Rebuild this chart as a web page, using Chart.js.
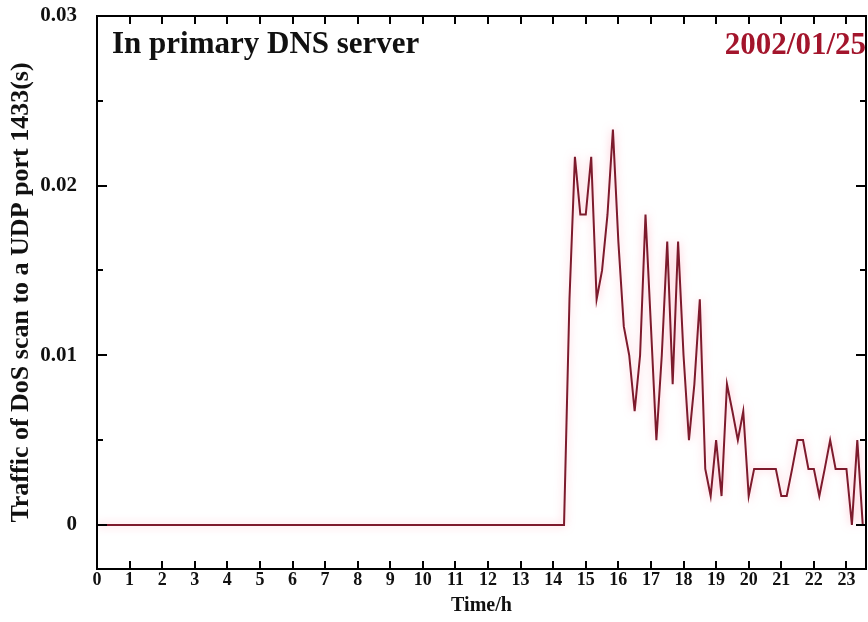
<!DOCTYPE html>
<html>
<head>
<meta charset="utf-8">
<script src="https://cdn.jsdelivr.net/npm/chart.js@4.4.1/dist/chart.umd.min.js"></script>
<style>
  html, body { margin: 0; padding: 0; background: #ffffff; }
  #wrap { position: relative; width: 868px; height: 622px; overflow: hidden; }
  canvas { display: block; }
  .note { position: absolute; font-family: "Liberation Serif", "DejaVu Serif", serif; font-weight: bold; white-space: nowrap; line-height: 1; }
  #title { left: 112px; top: 27px; font-size: 31px; color: #111111; }
  #date { right: 2px; top: 28px; font-size: 31px; color: #a3152c; }
</style>
</head>
<body>
<div id="wrap">
  <canvas id="c" width="868" height="622"></canvas>
  <div class="note" id="title">In primary DNS server</div>
  <div class="note" id="date">2002/01/25</div>
</div>
<script>
// Sample times (hours of the day, 10-minute bins) and scan traffic per bin
const hours = [
  0, 14.333,
  14.5, 14.667, 14.833, 15.0, 15.167, 15.333, 15.5, 15.667, 15.833, 16.0,
  16.167, 16.333, 16.5, 16.667, 16.833, 17.0, 17.167, 17.333, 17.5, 17.667,
  17.833, 18.0, 18.167, 18.333, 18.5, 18.667, 18.833, 19.0, 19.167, 19.333,
  19.5, 19.667, 19.833, 20.0, 20.167, 20.333, 20.5, 20.667, 20.833, 21.0,
  21.167, 21.333, 21.5, 21.667, 21.833, 22.0, 22.167, 22.333, 22.5, 22.667,
  22.833, 23.0, 23.167, 23.333, 23.5
];
const traffic = [
  0, 0,
  0.0133, 0.0217, 0.0183, 0.0183, 0.0217, 0.0133, 0.0150, 0.0183, 0.0233, 0.0167,
  0.0117, 0.0100, 0.0067, 0.0100, 0.0183, 0.0117, 0.0050, 0.0100, 0.0167, 0.0083,
  0.0167, 0.0100, 0.0050, 0.0083, 0.0133, 0.0033, 0.0017, 0.0050, 0.0017, 0.0083,
  0.0067, 0.0050, 0.0067, 0.0017, 0.0033, 0.0033, 0.0033, 0.0033, 0.0033, 0.0017,
  0.0017, 0.0033, 0.0050, 0.0050, 0.0033, 0.0033, 0.0017, 0.0033, 0.0050, 0.0033,
  0.0033, 0.0033, 0.0000, 0.0050, 0.0000
];

// Axis ticks
const hourTicks = [0,1,2,3,4,5,6,7,8,9,10,11,12,13,14,15,16,17,18,19,20,21,22,23];
const yMajorTicks = [0, 0.01, 0.02, 0.03];
const yMinorTicks = [0.005, 0.015, 0.025];

const serif = '"Liberation Serif", "DejaVu Serif", serif';

// Draws the boxed frame with inward ticks on all four sides
const frameTicks = {
  id: 'frameTicks',
  afterDraw(chart) {
    const { ctx, chartArea: a, scales: { x, y } } = chart;
    ctx.save();
    ctx.strokeStyle = '#000000';
    ctx.lineWidth = 2;
    ctx.beginPath();
    hourTicks.forEach(h => {
      const px = Math.round(x.getPixelForValue(h));
      ctx.moveTo(px, a.bottom); ctx.lineTo(px, a.bottom - 8);
      ctx.moveTo(px, a.top); ctx.lineTo(px, a.top + 8);
    });
    yMajorTicks.forEach(v => {
      const py = Math.round(y.getPixelForValue(v));
      ctx.moveTo(a.left, py); ctx.lineTo(a.left + 10, py);
      ctx.moveTo(a.right, py); ctx.lineTo(a.right - 10, py);
    });
    yMinorTicks.forEach(v => {
      const py = Math.round(y.getPixelForValue(v));
      ctx.moveTo(a.left, py); ctx.lineTo(a.left + 6, py);
      ctx.moveTo(a.right, py); ctx.lineTo(a.right - 6, py);
    });
    ctx.stroke();
    ctx.strokeRect(a.left, a.top, a.right - a.left, a.bottom - a.top);
    ctx.restore();
  }
};

// Soft pink glow around the traffic line
const glow = {
  id: 'glow',
  beforeDatasetDraw(chart) {
    chart.ctx.save();
    chart.ctx.shadowColor = 'rgba(255, 140, 165, 0.6)';
    chart.ctx.shadowBlur = 8;
  },
  afterDatasetDraw(chart) {
    chart.ctx.restore();
  }
};

new Chart(document.getElementById('c'), {
  type: 'line',
  data: {
    datasets: [{
      data: hours.map((h, i) => ({ x: h, y: traffic[i] })),
      borderColor: '#7d1a2c',
      borderWidth: 2,
      pointRadius: 0,
      tension: 0,
      fill: false
    }]
  },
  options: {
    responsive: false,
    animation: false,
    devicePixelRatio: 1,
    layout: { padding: { top: 16, right: 2, left: 0, bottom: 0 } },
    plugins: { legend: { display: false }, tooltip: { enabled: false }, title: { display: false } },
    scales: {
      x: {
        type: 'linear',
        min: 0,
        max: 23.6,
        afterBuildTicks(scale) { scale.ticks = hourTicks.map(v => ({ value: v })); },
        afterFit(scale) {
          scale.height = 53;
          scale.paddingLeft = 0;
          scale.paddingRight = 0;
        },
        grid: { display: false, drawTicks: false },
        border: { display: false },
        ticks: {
          autoSkip: false,
          maxRotation: 0,
          padding: 1,
          color: '#111111',
          font: { family: serif, size: 18, weight: 'bold' },
          callback: v => String(v)
        },
        title: {
          display: true,
          text: 'Time/h',
          color: '#111111',
          font: { family: serif, size: 20, weight: 'bold' },
          padding: { top: 0, bottom: 4 }
        }
      },
      y: {
        type: 'linear',
        min: -0.0026,
        max: 0.03,
        afterBuildTicks(scale) { scale.ticks = yMajorTicks.map(v => ({ value: v })); },
        afterFit(scale) {
          scale.width = 97;
          scale.paddingTop = 0;
          scale.paddingBottom = 0;
        },
        grid: { display: false, drawTicks: false },
        border: { display: false },
        ticks: {
          padding: 20,
          color: '#111111',
          font: { family: serif, size: 21, weight: 'bold' },
          callback: v => (v === 0 ? '0' : v.toFixed(2))
        },
        title: {
          display: true,
          text: 'Traffic of DoS scan to a UDP port 1433(s)',
          color: '#111111',
          font: { family: serif, size: 26, weight: 'bold' },
          padding: { top: 6, bottom: 0 }
        }
      }
    }
  },
  plugins: [glow, frameTicks]
});
</script>
</body>
</html>
